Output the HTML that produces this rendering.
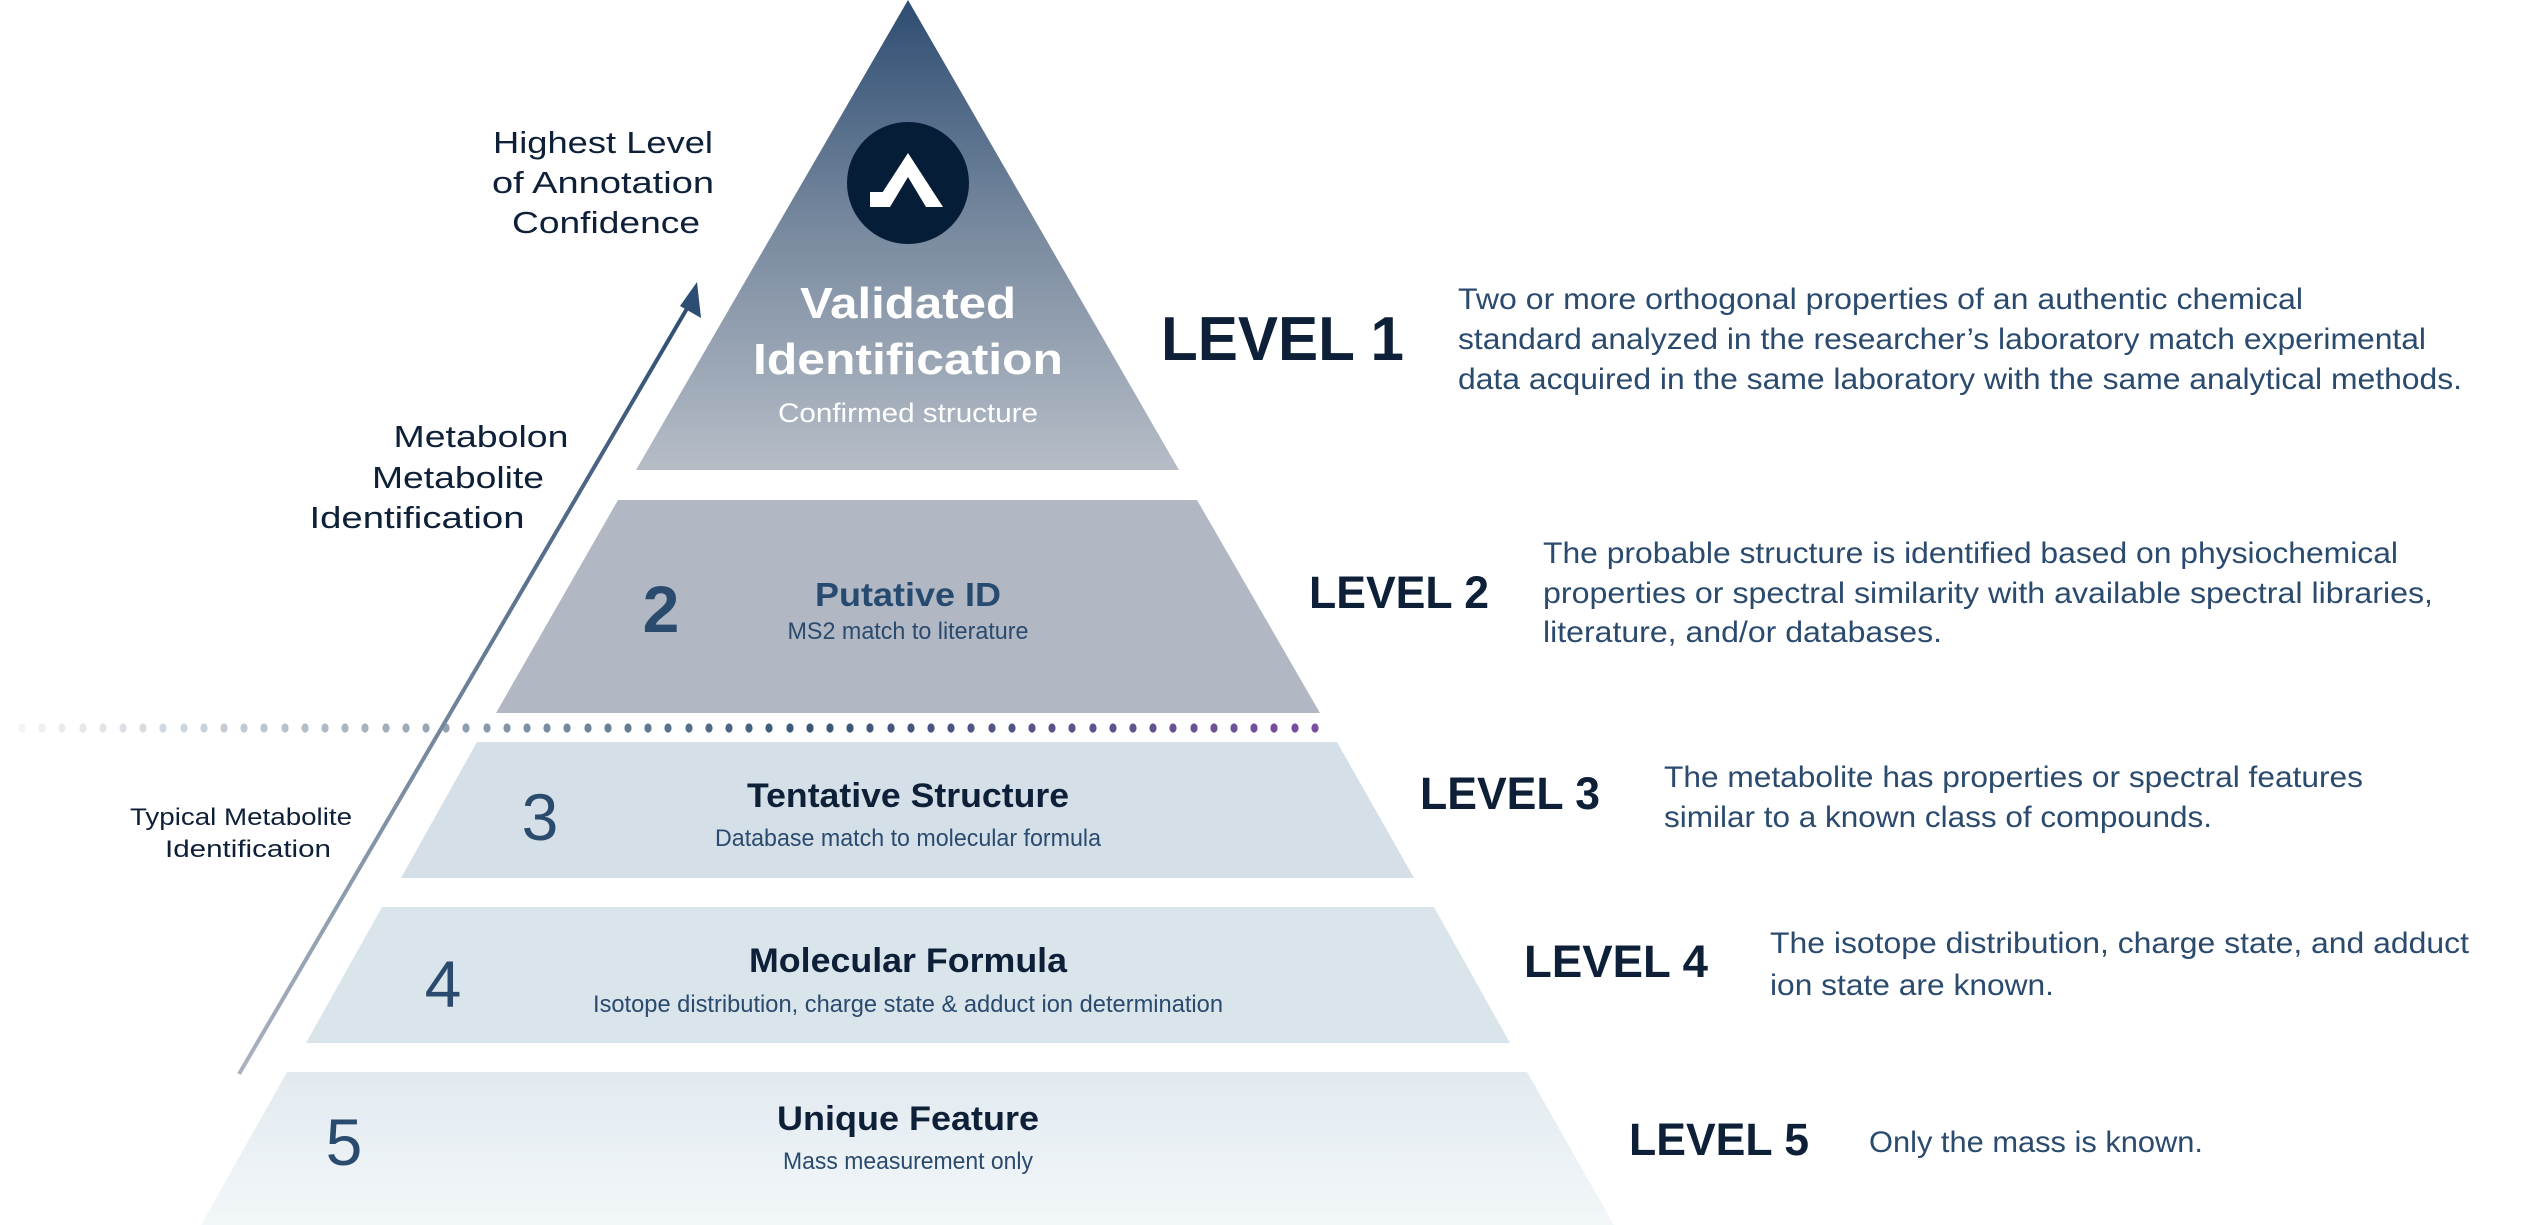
<!DOCTYPE html>
<html><head><meta charset="utf-8"><style>
html,body{margin:0;padding:0;background:#fff;}
svg{display:block;}
text{font-family:"Liberation Sans",sans-serif;}
</style></head><body>
<svg width="2543" height="1225" viewBox="0 0 2543 1225" xmlns="http://www.w3.org/2000/svg">
<defs>
<linearGradient id="g1" x1="0" y1="0" x2="0" y2="1">
<stop offset="0" stop-color="#2e4d72"/><stop offset="0.5" stop-color="#7a8ba0"/><stop offset="1" stop-color="#b6bdc7"/>
</linearGradient>
<linearGradient id="g5" x1="0" y1="0" x2="0" y2="1">
<stop offset="0" stop-color="#e2eaf0"/><stop offset="1" stop-color="#f2f7f9"/>
</linearGradient>
<linearGradient id="gd" gradientUnits="userSpaceOnUse" x1="18" y1="0" x2="1324" y2="0">
<stop offset="0" stop-color="#f2f4f6"/><stop offset="0.3" stop-color="#9aaab8"/><stop offset="0.6" stop-color="#3a5878"/><stop offset="1" stop-color="#7a4fa0"/>
</linearGradient>
<linearGradient id="ga" x1="0" y1="1" x2="0" y2="0">
<stop offset="0" stop-color="#a9b3bf"/><stop offset="1" stop-color="#2e4d72"/>
</linearGradient>
</defs>
<polygon points="908,0 1179,470 636,470" fill="url(#g1)"/>
<polygon points="618,500 1197,500 1320,713 496,713" fill="#b1b8c3"/>
<g fill="url(#gd)">
<ellipse cx="22" cy="728" rx="3.6" ry="4.6"/><ellipse cx="42" cy="728" rx="3.6" ry="4.6"/><ellipse cx="62" cy="728" rx="3.6" ry="4.6"/><ellipse cx="83" cy="728" rx="3.6" ry="4.6"/><ellipse cx="103" cy="728" rx="3.6" ry="4.6"/><ellipse cx="123" cy="728" rx="3.6" ry="4.6"/><ellipse cx="143" cy="728" rx="3.6" ry="4.6"/><ellipse cx="163" cy="728" rx="3.6" ry="4.6"/><ellipse cx="184" cy="728" rx="3.6" ry="4.6"/><ellipse cx="204" cy="728" rx="3.6" ry="4.6"/><ellipse cx="224" cy="728" rx="3.6" ry="4.6"/><ellipse cx="244" cy="728" rx="3.6" ry="4.6"/><ellipse cx="264" cy="728" rx="3.6" ry="4.6"/><ellipse cx="285" cy="728" rx="3.6" ry="4.6"/><ellipse cx="305" cy="728" rx="3.6" ry="4.6"/><ellipse cx="325" cy="728" rx="3.6" ry="4.6"/><ellipse cx="345" cy="728" rx="3.6" ry="4.6"/><ellipse cx="365" cy="728" rx="3.6" ry="4.6"/><ellipse cx="386" cy="728" rx="3.6" ry="4.6"/><ellipse cx="406" cy="728" rx="3.6" ry="4.6"/><ellipse cx="426" cy="728" rx="3.6" ry="4.6"/><ellipse cx="446" cy="728" rx="3.6" ry="4.6"/><ellipse cx="466" cy="728" rx="3.6" ry="4.6"/><ellipse cx="487" cy="728" rx="3.6" ry="4.6"/><ellipse cx="507" cy="728" rx="3.6" ry="4.6"/><ellipse cx="527" cy="728" rx="3.6" ry="4.6"/><ellipse cx="547" cy="728" rx="3.6" ry="4.6"/><ellipse cx="567" cy="728" rx="3.6" ry="4.6"/><ellipse cx="588" cy="728" rx="3.6" ry="4.6"/><ellipse cx="608" cy="728" rx="3.6" ry="4.6"/><ellipse cx="628" cy="728" rx="3.6" ry="4.6"/><ellipse cx="648" cy="728" rx="3.6" ry="4.6"/><ellipse cx="668" cy="728" rx="3.6" ry="4.6"/><ellipse cx="689" cy="728" rx="3.6" ry="4.6"/><ellipse cx="709" cy="728" rx="3.6" ry="4.6"/><ellipse cx="729" cy="728" rx="3.6" ry="4.6"/><ellipse cx="749" cy="728" rx="3.6" ry="4.6"/><ellipse cx="769" cy="728" rx="3.6" ry="4.6"/><ellipse cx="790" cy="728" rx="3.6" ry="4.6"/><ellipse cx="810" cy="728" rx="3.6" ry="4.6"/><ellipse cx="830" cy="728" rx="3.6" ry="4.6"/><ellipse cx="850" cy="728" rx="3.6" ry="4.6"/><ellipse cx="870" cy="728" rx="3.6" ry="4.6"/><ellipse cx="891" cy="728" rx="3.6" ry="4.6"/><ellipse cx="911" cy="728" rx="3.6" ry="4.6"/><ellipse cx="931" cy="728" rx="3.6" ry="4.6"/><ellipse cx="951" cy="728" rx="3.6" ry="4.6"/><ellipse cx="971" cy="728" rx="3.6" ry="4.6"/><ellipse cx="992" cy="728" rx="3.6" ry="4.6"/><ellipse cx="1012" cy="728" rx="3.6" ry="4.6"/><ellipse cx="1032" cy="728" rx="3.6" ry="4.6"/><ellipse cx="1052" cy="728" rx="3.6" ry="4.6"/><ellipse cx="1072" cy="728" rx="3.6" ry="4.6"/><ellipse cx="1093" cy="728" rx="3.6" ry="4.6"/><ellipse cx="1113" cy="728" rx="3.6" ry="4.6"/><ellipse cx="1133" cy="728" rx="3.6" ry="4.6"/><ellipse cx="1153" cy="728" rx="3.6" ry="4.6"/><ellipse cx="1173" cy="728" rx="3.6" ry="4.6"/><ellipse cx="1194" cy="728" rx="3.6" ry="4.6"/><ellipse cx="1214" cy="728" rx="3.6" ry="4.6"/><ellipse cx="1234" cy="728" rx="3.6" ry="4.6"/><ellipse cx="1254" cy="728" rx="3.6" ry="4.6"/><ellipse cx="1274" cy="728" rx="3.6" ry="4.6"/><ellipse cx="1295" cy="728" rx="3.6" ry="4.6"/><ellipse cx="1315" cy="728" rx="3.6" ry="4.6"/>
</g>
<polygon points="477,742 1337,742 1414,878 401,878" fill="#d5dfe7"/>
<polygon points="382,907 1434,907 1510,1043 306,1043" fill="#d9e4eb"/>
<polygon points="287,1072 1527,1072 1614,1225 201,1225" fill="url(#g5)"/>
<!-- arrow -->
<line x1="239" y1="1074" x2="692" y2="300" stroke="url(#ga)" stroke-width="4"/>
<polygon points="697,282 701,318 680,306" fill="#2e4d72"/>
<!-- logo -->
<circle cx="908" cy="183" r="61" fill="#061d38"/>
<polygon points="908,153 943,207 926,207 908,177 890,207 873,207" fill="#fff"/>
<polygon points="870,192 890,192 881,207 870,207" fill="#fff"/>
<text x="908" y="318" font-size="44" font-weight="bold" fill="#fff" text-anchor="middle" textLength="216" lengthAdjust="spacingAndGlyphs">Validated</text>
<text x="908" y="374" font-size="44" font-weight="bold" fill="#fff" text-anchor="middle" textLength="310" lengthAdjust="spacingAndGlyphs">Identification</text>
<text x="908" y="422" font-size="27" fill="#fff" text-anchor="middle" textLength="260" lengthAdjust="spacingAndGlyphs">Confirmed structure</text>
<g fill="#0e2038" font-size="31" text-anchor="middle">
<text x="603" y="153" textLength="220" lengthAdjust="spacingAndGlyphs">Highest Level</text>
<text x="603" y="193" textLength="222" lengthAdjust="spacingAndGlyphs">of Annotation</text>
<text x="606" y="233" textLength="188" lengthAdjust="spacingAndGlyphs">Confidence</text>
<text x="481" y="447" textLength="175" lengthAdjust="spacingAndGlyphs">Metabolon</text>
<text x="458" y="488" textLength="172" lengthAdjust="spacingAndGlyphs">Metabolite</text>
<text x="417" y="528" textLength="215" lengthAdjust="spacingAndGlyphs">Identification</text>
<text x="241" y="825" font-size="24" textLength="222" lengthAdjust="spacingAndGlyphs">Typical Metabolite</text>
<text x="248" y="857" font-size="24" textLength="166" lengthAdjust="spacingAndGlyphs">Identification</text>
</g>
<g fill="#2a4a6e" font-size="66" text-anchor="middle">
<text x="661" y="632" font-weight="bold">2</text>
<text x="540" y="840">3</text>
<text x="443" y="1007">4</text>
<text x="344" y="1165">5</text>
</g>
<text x="908" y="606" font-size="33" font-weight="bold" fill="#264a70" text-anchor="middle" textLength="186" lengthAdjust="spacingAndGlyphs">Putative ID</text>
<text x="908" y="639" font-size="24" fill="#2a4a6e" text-anchor="middle" textLength="241" lengthAdjust="spacingAndGlyphs">MS2 match to literature</text>
<g fill="#0e2038" font-weight="bold" font-size="34" text-anchor="middle">
<text x="908" y="807" textLength="322" lengthAdjust="spacingAndGlyphs">Tentative Structure</text>
<text x="908" y="972" textLength="318" lengthAdjust="spacingAndGlyphs">Molecular Formula</text>
<text x="908" y="1130" textLength="262" lengthAdjust="spacingAndGlyphs">Unique Feature</text>
</g>
<g fill="#2a4a6e" font-size="24" text-anchor="middle">
<text x="908" y="846" textLength="386" lengthAdjust="spacingAndGlyphs">Database match to molecular formula</text>
<text x="908" y="1012" textLength="630" lengthAdjust="spacingAndGlyphs">Isotope distribution, charge state &amp; adduct ion determination</text>
<text x="908" y="1169" textLength="250" lengthAdjust="spacingAndGlyphs">Mass measurement only</text>
</g>
<g fill="#0e2038" font-weight="bold">
<text x="1161" y="360" font-size="62" textLength="243" lengthAdjust="spacingAndGlyphs">LEVEL 1</text>
<text x="1309" y="608" font-size="45" textLength="180" lengthAdjust="spacingAndGlyphs">LEVEL 2</text>
<text x="1420" y="809" font-size="45" textLength="180" lengthAdjust="spacingAndGlyphs">LEVEL 3</text>
<text x="1524" y="977" font-size="45" textLength="184" lengthAdjust="spacingAndGlyphs">LEVEL 4</text>
<text x="1629" y="1155" font-size="45" textLength="180" lengthAdjust="spacingAndGlyphs">LEVEL 5</text>
</g>
<g fill="#2a4a6e" font-size="30">
<text x="1458" y="309" textLength="845" lengthAdjust="spacingAndGlyphs">Two or more orthogonal properties of an authentic chemical</text>
<text x="1458" y="349" textLength="968" lengthAdjust="spacingAndGlyphs">standard analyzed in the researcher’s laboratory match experimental</text>
<text x="1458" y="389" textLength="1004" lengthAdjust="spacingAndGlyphs">data acquired in the same laboratory with the same analytical methods.</text>
<text x="1543" y="563" textLength="855" lengthAdjust="spacingAndGlyphs">The probable structure is identified based on physiochemical</text>
<text x="1543" y="603" textLength="890" lengthAdjust="spacingAndGlyphs">properties or spectral similarity with available spectral libraries,</text>
<text x="1543" y="642" textLength="399" lengthAdjust="spacingAndGlyphs">literature, and/or databases.</text>
<text x="1664" y="787" textLength="699" lengthAdjust="spacingAndGlyphs">The metabolite has properties or spectral features</text>
<text x="1664" y="827" textLength="548" lengthAdjust="spacingAndGlyphs">similar to a known class of compounds.</text>
<text x="1770" y="953" textLength="699" lengthAdjust="spacingAndGlyphs">The isotope distribution, charge state, and adduct</text>
<text x="1770" y="995" textLength="284" lengthAdjust="spacingAndGlyphs">ion state are known.</text>
<text x="1869" y="1152" textLength="334" lengthAdjust="spacingAndGlyphs">Only the mass is known.</text>
</g>
</svg>
</body></html>
